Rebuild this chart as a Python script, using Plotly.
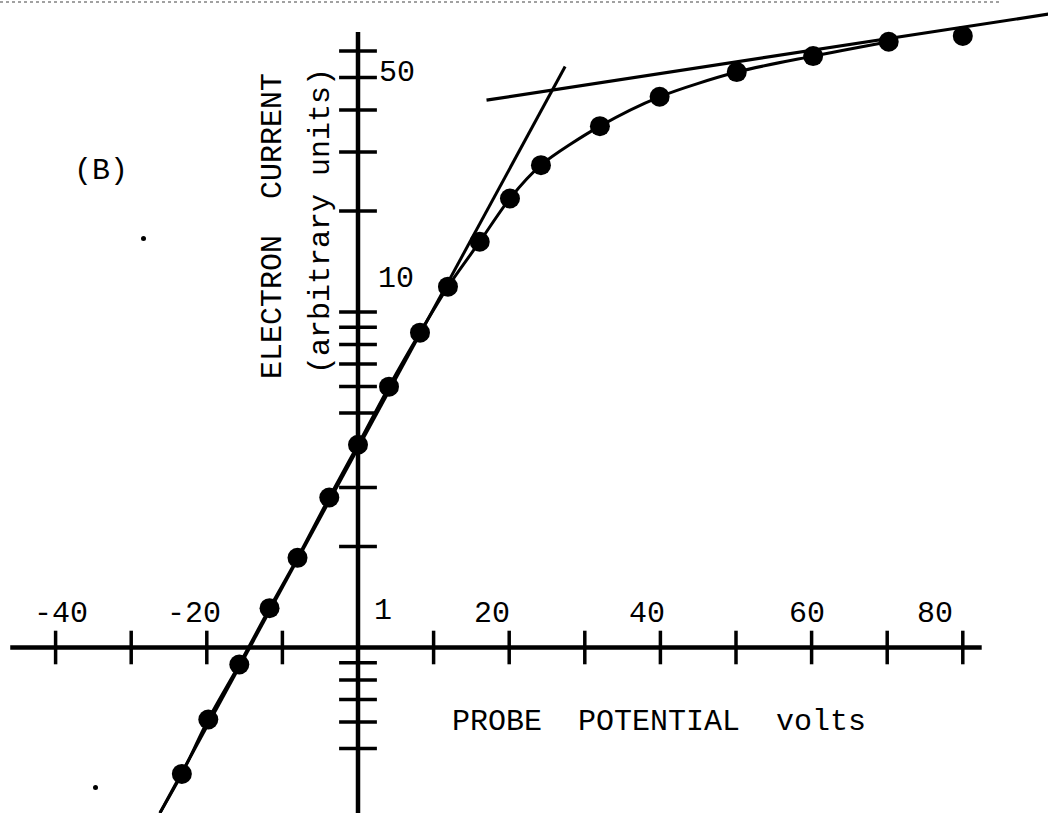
import numpy as np
import plotly.graph_objects as go

# Langmuir probe characteristic: electron current vs probe potential
probe_volts = [-23.3, -19.8, -15.7, -11.7, -8.0, -3.8, 0.0, 4.1, 8.2, 11.9,
               16.1, 20.1, 24.2, 32.0, 39.9, 50.1, 60.2, 70.2, 80.0]
electron_current = [0.42, 0.61, 0.89, 1.31, 1.85, 2.80, 4.02, 5.99, 8.68, 11.9,
                    16.2, 21.8, 27.4, 35.8, 43.8, 51.9, 57.9, 63.9, 66.5]

# straight-line fits on the semilog plot: current at 0 V, decades per volt, volt span
retard_i0, retard_slope, retard_span = 3.93, 0.04151, (-26.2, 27.4)
sat_i0, sat_slope, sat_span = 37.4, 0.00345, (17.0, 91.3)

# hand-drawn axes
x_ticks = [-40, -30, -20, -10, 10, 20, 30, 40, 50, 60, 70, 80]
x_tick_labels = ["-40", "-20", "20", "40", "60", "80"]
x_label_vals = [-40, -20, 20, 40, 60, 80]
y_ticks = [0.5, 0.6, 0.7, 0.8, 0.9, 2, 3, 5, 6, 7, 8, 9, 10, 20, 30, 40, 50, 60]
y_tick_labels = ["1", "10", "50"]
y_label_vals = [1, 10, 50]
x_axis_span = (-46.0, 82.5)
y_axis_span = (0.3, 68.3)

INK = "#000000"
FONT = "Liberation Mono"


def fit_line(i0, slope, span):
    v = np.array(span)
    return v, i0 * 10 ** (slope * v)


fig = go.Figure()

# axes crossing at (0 V, 1)
fig.add_trace(go.Scatter(x=list(x_axis_span), y=[1, 1], mode="lines",
                         line=dict(color=INK, width=4.5), hoverinfo="skip"))
fig.add_trace(go.Scatter(x=[0, 0], y=list(y_axis_span), mode="lines",
                         line=dict(color=INK, width=4.5), hoverinfo="skip"))
fig.add_trace(go.Scatter(x=x_ticks, y=[1] * len(x_ticks), mode="markers",
                         marker=dict(symbol="line-ns", size=24,
                                     line=dict(color=INK, width=3.5)),
                         hoverinfo="skip"))
fig.add_trace(go.Scatter(x=[0] * len(y_ticks), y=y_ticks, mode="markers",
                         marker=dict(symbol="line-ew", size=27,
                                     line=dict(color=INK, width=3.5)),
                         hoverinfo="skip"))

# tangent lines
rv, ri = fit_line(retard_i0, retard_slope, retard_span)
fig.add_trace(go.Scatter(x=rv, y=ri, mode="lines",
                         line=dict(color=INK, width=3), hoverinfo="skip"))
sv, si = fit_line(sat_i0, sat_slope, sat_span)
fig.add_trace(go.Scatter(x=sv, y=si, mode="lines",
                         line=dict(color=INK, width=3.2), hoverinfo="skip"))

# smooth curve through the measurements, starting on the retarding-field line
curve_v = [rv[0]] + probe_volts[:-1]
curve_i = [ri[0]] + electron_current[:-1]
fig.add_trace(go.Scatter(x=curve_v, y=curve_i, mode="lines",
                         line=dict(color=INK, width=3, shape="spline", smoothing=0.8),
                         hoverinfo="skip"))

# measured points
fig.add_trace(go.Scatter(x=probe_volts, y=electron_current, mode="markers",
                         marker=dict(color=INK, size=20, line=dict(width=0)),
                         hoverinfo="skip"))

font = dict(family=FONT, size=30, color=INK)
annotations = []

# x tick labels sit above the axis, typed a little off their ticks
x_label_shift = [5, -13, -17, -13, -5, -28]
for val, txt, dx in zip(x_label_vals, x_tick_labels, x_label_shift):
    annotations.append(dict(x=val, y=0, xref="x", yref="y", text=txt,
                            xanchor="center", yanchor="middle",
                            showarrow=False, font=font, xshift=dx, yshift=34))

# y tick labels to the right of the vertical axis
y_label_offsets = [(25, 37), (38, 33), (39, 5)]
for val, txt, (dx, dy) in zip(y_label_vals, y_tick_labels, y_label_offsets):
    annotations.append(dict(x=0, y=np.log10(val), xref="x", yref="y", text=txt,
                            xanchor="center", yanchor="middle",
                            showarrow=False, font=font, xshift=dx, yshift=dy))

W, H = 1048, 813


def text_at(px, py, txt, **kw):
    return dict(x=px / W, y=1 - py / H, xref="paper", yref="paper", text=txt,
                xanchor=kw.pop("xanchor", "center"), yanchor="middle",
                showarrow=False, font=font, **kw)


annotations += [
    text_at(273, 226, "ELECTRON  CURRENT", textangle=-90),
    text_at(321, 221, "(arbitrary units)", textangle=-90),
    text_at(450, 722, "PROBE  POTENTIAL  volts", xanchor="left"),
    text_at(101, 171, "(B)"),
]

shapes = [
    # ruled edge along the top of the sheet
    dict(type="line", xref="paper", yref="paper", x0=0, x1=1000 / W,
         y0=1 - 2 / H, y1=1 - 2 / H, line=dict(color="#444444", width=1.2, dash="dot")),
    dict(type="circle", xref="paper", yref="paper",
         x0=141 / W, x1=146 / W, y0=1 - 241 / H, y1=1 - 236 / H,
         fillcolor=INK, line=dict(width=0)),
    dict(type="circle", xref="paper", yref="paper",
         x0=93 / W, x1=98 / W, y0=1 - 790 / H, y1=1 - 785 / H,
         fillcolor=INK, line=dict(width=0)),
]

fig.update_layout(
    width=W, height=H,
    margin=dict(l=0, r=0, t=0, b=0),
    paper_bgcolor="white", plot_bgcolor="white",
    showlegend=False,
    xaxis=dict(range=[-358 / 7.56, 690 / 7.56], visible=False, fixedrange=True),
    yaxis=dict(type="log", range=[(647.5 - 813) / 335.5, 647.5 / 335.5],
               visible=False, fixedrange=True),
    annotations=annotations,
    shapes=shapes,
)

fig.write_html("out.html")
